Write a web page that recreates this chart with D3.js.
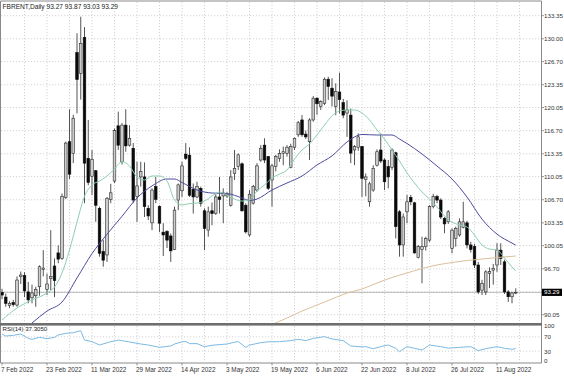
<!DOCTYPE html>
<html>
<head>
<meta charset="utf-8">
<script src="https://cdn.jsdelivr.net/npm/d3@7"></script>
<style>
  body { margin: 0; background: #fff; }
  svg { display: block; font-family: "Liberation Sans", Arial, sans-serif; }
</style>
</head>
<body>
<svg width="564" height="376"></svg>
<script>
// daily bars, index 0 = 7 Feb 2022
var open = [93.3,92.6,91.4,91.8,91.45,95.6,95.7,93.35,92.5,92.8,
  94.1,96.6,93.7,95.3,97.1,99.0,98.2,107.0,115.1,113.4,
  128.0,125.0,130.2,112.7,110.1,110.9,105.45,99.2,98.7,106.75,
  109.4,117.4,112.2,117.5,114.6,114.15,107.15,110.0,110.0,105.45,
  103.35,108.6,105.7,102.0,102.1,101.45,99.5,106.65,108.0,113.3,
  113.15,108.2,107.1,108.35,105.1,102.3,105.1,104.7,107.1,107.25,
  107.25,105.9,110.5,111.5,111.9,105.9,101.6,106.2,108.1,112.45,
  114.6,112.95,109.55,111.5,112.7,113.4,113.4,111.4,114.3,116.1,
  118.25,116.2,115.1,118.25,121.4,120.2,120.65,124.15,122.85,120.2,
  122.3,120.75,119.25,118.95,113.9,114.3,114.4,109.6,106.4,108.1,
  111.7,113.9,112.45,111.5,111.4,113.5,104.95,100.15,104.95,107.05,
  106.25,98.35,99.5,99.9,100.85,105.7,107.15,106.65,104.0,103.5,
  99.65,101.1,101.6,102.7,103.35,100.15,99.9,97.25,93.6,93.35,
  96.05,96.5,97.25,99.4,97.7,93.35,92.65,93.27];
var high = [93.8,93.1,92.0,92.2,95.6,96.3,96.2,94.8,94.4,94.1,
  97.2,99.4,96.0,102.3,98.2,100.1,107.6,115.1,119.8,119.0,
  130.8,133.2,131.7,118.25,113.9,111.0,105.7,100.9,107.1,109.0,
  117.0,119.45,117.8,119.8,117.5,114.9,112.2,112.2,112.1,105.9,
  108.35,110.0,105.9,103.3,102.3,101.8,105.7,109.05,112.2,114.9,
  114.3,109.05,109.3,108.6,105.45,105.7,106.3,107.5,110.0,108.35,
  107.8,111.0,113.9,113.4,112.1,106.2,108.1,108.85,112.0,114.6,
  115.6,113.0,111.9,113.2,114.0,114.4,114.6,114.8,115.7,118.1,
  118.95,116.7,118.5,121.7,121.55,121.1,124.4,124.5,124.3,123.55,
  125.1,121.3,121.1,119.9,114.6,116.3,114.5,110.5,109.3,111.7,
  114.0,116.3,112.7,112.45,114.15,113.65,105.2,104.7,107.4,107.4,
  106.4,100.15,101.35,101.35,105.9,107.55,107.4,106.9,104.2,105.2,
  102.55,102.8,104.0,106.4,103.65,100.6,100.3,97.7,95.1,96.5,
  96.9,97.4,100.4,100.4,98.0,93.6,93.35,93.87];
var low = [92.3,91.2,91.0,91.2,91.2,94.5,92.6,91.7,91.7,91.2,
  92.8,95.6,92.9,93.6,92.6,97.5,98.0,106.8,109.7,112.0,
  119.2,121.2,106.2,108.8,107.4,103.5,98.45,97.0,97.7,106.2,
  109.1,113.9,111.8,113.65,114.4,106.2,103.5,108.6,104.2,103.75,
  102.3,106.2,102.0,98.55,99.7,97.7,99.4,105.2,107.1,112.45,
  107.1,104.7,106.9,105.7,99.4,101.35,103.0,104.5,104.7,103.3,
  107.0,105.7,109.55,111.0,104.95,101.8,101.35,106.0,107.85,112.2,
  112.0,108.1,105.7,110.8,112.2,111.7,112.95,111.25,113.9,115.8,
  115.8,115.5,112.45,118.0,119.0,119.7,120.4,121.15,120.2,118.95,
  119.2,118.5,115.8,112.0,111.7,113.8,107.1,107.2,105.7,107.85,
  111.5,112.0,108.1,108.35,111.0,101.1,98.45,98.45,103.3,105.9,
  98.9,98.2,94.6,99.35,100.6,105.45,106.2,103.9,101.85,103.2,
  98.95,99.9,101.35,102.55,99.65,99.05,96.8,93.05,92.9,92.9,
  93.9,94.4,96.25,97.25,93.05,91.9,91.7,93.03];
var close = [92.9,91.7,91.7,91.5,95.07,95.8,93.5,92.2,93.2,93.7,
  97.0,96.8,94.5,95.6,95.0,98.1,107.2,114.9,110.4,118.5,
  124.1,129.35,112.0,109.2,112.55,105.9,98.95,97.95,106.9,107.7,
  116.7,114.6,117.5,114.5,115.6,106.65,108.7,110.8,105.7,104.35,
  108.1,106.75,103.3,101.6,100.85,99.3,105.2,108.85,111.6,112.7,
  107.35,107.1,108.6,106.2,102.55,104.95,104.7,107.1,106.75,107.7,
  107.5,110.0,111.25,113.2,105.1,102.05,107.5,108.6,111.6,114.15,
  112.45,108.35,111.6,112.95,113.4,113.65,114.3,114.4,115.6,117.85,
  116.1,115.8,118.25,121.4,120.6,120.9,124.15,123.1,121.7,122.35,
  121.2,118.95,119.7,113.45,114.4,115.8,109.8,110.0,109.0,111.25,
  113.65,112.3,109.3,110.0,113.9,102.8,100.15,104.2,106.4,106.4,
  99.0,99.9,99.9,101.1,105.7,107.15,106.65,104.2,103.2,104.95,
  102.3,102.55,103.5,103.5,100.15,99.5,97.25,93.35,94.6,96.25,
  96.3,96.75,99.4,98.2,93.35,92.65,93.2,93.29];

// moving averages (bar index, price)
var fastBars = [0,4,8,12,14,16,18,20,22,24,26,28,30,32,34,36,38,40,42,44,46,48,50,52,54,56,58,60,62,64,66,68,70,72,74,76,78,80,82,84,86,88,90,92,94,96,98,100,102,104,106,108,110,112,114,116,118,120,122,124,126,128,130,132,134,136,137];
var fastVals = [89.28,91.02,92.18,93.19,94.06,96.09,99.42,103.47,107.2,108.83,109.41,110.14,111.15,112.21,111.58,109.99,109.56,110.14,110.14,109.41,106.66,105.94,106.15,106.22,106.51,107.24,107.82,107.38,106.8,106.51,106.66,107.96,108.83,109.85,110.42,111.0,112.6,113.9,114.77,116.07,117.52,118.82,119.55,119.69,119.69,119.26,118.25,116.8,115.49,113.9,112.31,110.57,109.12,107.82,106.8,105.65,104.34,103.47,103.04,102.75,101.59,100.14,99.56,99.42,98.26,96.96,96.38];
var slowBars = [8,12,16,20,24,28,32,36,40,44,46,48,52,56,60,64,66,68,72,76,80,84,88,92,94,96,100,104,106,108,112,116,120,124,128,132,136,137];
var slowVals = [88.85,90.58,91.89,95.37,98.9,101.7,104.3,106.95,108.7,109.7,109.7,109.19,108.11,107.67,107.6,106.95,106.59,106.8,108.11,109.12,110.13,111.73,113.05,115.06,115.79,116.15,116.07,116.07,115.49,114.84,113.32,111.58,109.7,107.09,103.89,101.72,100.42,100.13];
var longBars = [72,76,80,84,88,92,96,100,104,108,112,116,120,124,128,132,137];
var longVals = [88.63,89.57,90.58,91.45,92.32,93.19,93.77,94.64,95.44,96.09,96.74,97.25,97.61,97.9,98.11,98.33,98.55];

// rsi(14)
var rsiBars = [0,1,3,5,7,8,10,12,14,15,17,19,21,22,24,26,29,31,34,37,39,42,45,46,48,49,50,52,54,56,60,62,63,65,66,69,71,74,77,79,81,83,86,88,91,93,96,97,99,101,103,105,106,108,110,112,114,117,119,122,125,127,129,132,134,136,137];
var rsiVals = [77.8,72.2,74.1,77.8,65.7,63,68.5,64.8,68.5,75,79.6,81.5,87,61,56.5,47.2,56.5,61,55.6,50,47.2,40.7,44.4,50,56,57,51,51,42.6,46.5,50,55,56.5,40.7,47,53.7,56,56.5,59.3,63,59.3,65.7,70.4,64,59.3,44.4,42,42.6,37,42.6,47.2,38,28.7,42.6,38,33.3,47.2,42.6,38.5,40.7,42.6,31.5,37,42.6,38,35.3,37.3];

var priceTicks = ["133.35","130.00","126.70","123.35","120.05","116.70","113.35","110.05","106.70","103.35","100.05","96.70","93.35","90.05"];
var rsiTicks = ["100","70","30","0"];
var dateLabels = ["7 Feb 2022","23 Feb 2022","11 Mar 2022","29 Mar 2022","14 Apr 2022","3 May 2022","19 May 2022","6 Jun 2022","22 Jun 2022","8 Jul 2022","26 Jul 2022","11 Aug 2022"];
var dateBars = [0,12,24,36,48,60,72,84,96,108,120,132];
var lastPrice = 93.29;

var svg = d3.select("svg");
var plotRight = 541.5;
var mainTop = 2, mainBottom = 323;
var rsiTop = 326, rsiBottom = 362;

var bars = d3.range(open.length).map(function (i) {
  return { i: i, o: open[i], h: high[i], l: low[i], c: close[i] };
});

var x = d3.scaleLinear().domain([0, 137]).range([2, 515.75]);
var y = d3.scaleLinear().domain([88.85, 135.33]).range([mainBottom, mainTop]);
var yr = d3.scaleLinear().domain([0, 100]).range([rsiBottom, rsiTop]);

svg.append("clipPath").attr("id", "mainclip")
  .append("rect").attr("x", 1).attr("y", mainTop).attr("width", plotRight - 1).attr("height", mainBottom - mainTop);
svg.append("clipPath").attr("id", "rsiclip")
  .append("rect").attr("x", 1).attr("y", rsiTop).attr("width", plotRight - 1).attr("height", rsiBottom - rsiTop);

var grid = svg.append("g")
  .attr("stroke", "#c9c9c9")
  .attr("stroke-width", 0.8)
  .attr("stroke-dasharray", "1.2,1.8");

// vertical grid every 6 bars, both panels
var vgrid = d3.range(6, 144, 6).filter(function (b) { return x(b) < plotRight; });
vgrid.forEach(function (b) {
  grid.append("line").attr("x1", x(b)).attr("x2", x(b)).attr("y1", mainTop).attr("y2", mainBottom);
  grid.append("line").attr("x1", x(b)).attr("x2", x(b)).attr("y1", rsiTop).attr("y2", rsiBottom);
});
priceTicks.forEach(function (t) {
  grid.append("line").attr("x1", 1).attr("x2", plotRight).attr("y1", y(+t)).attr("y2", y(+t));
});
[70, 30].forEach(function (v) {
  grid.append("line").attr("x1", 1).attr("x2", plotRight).attr("y1", yr(v)).attr("y2", yr(v));
});

// bid line
svg.append("line")
  .attr("x1", 1).attr("x2", plotRight)
  .attr("y1", y(lastPrice)).attr("y2", y(lastPrice))
  .attr("stroke", "#a8a8a8").attr("stroke-width", 0.8);

// candles
var candles = svg.append("g").attr("clip-path", "url(#mainclip)");
candles.selectAll("line.wick")
  .data(bars).enter().append("line")
  .attr("class", "wick")
  .attr("x1", (d) => x(d.i)).attr("x2", (d) => x(d.i))
  .attr("y1", (d) => y(d.h)).attr("y2", (d) => y(d.l))
  .attr("stroke", "#2a2a2a").attr("stroke-width", 0.8);
candles.selectAll("rect.body")
  .data(bars).enter().append("rect")
  .attr("class", "body")
  .attr("x", (d) => x(d.i) - 1.3)
  .attr("width", 2.6)
  .attr("y", (d) => y(Math.max(d.o, d.c)))
  .attr("height", (d) => Math.max(0.8, Math.abs(y(d.o) - y(d.c))))
  .attr("fill", (d) => d.c >= d.o ? "#cdcdcd" : "#0a0a0a")
  .attr("stroke", (d) => d.c >= d.o ? "#2a2a2a" : "#0a0a0a")
  .attr("stroke-width", 0.6);

// moving averages
var maLine = d3.line().x((d) => x(d[0])).y((d) => y(d[1])).curve(d3.curveMonotoneX);
var mas = [
  { bars: longBars, vals: longVals, color: "#dcc09a" },
  { bars: slowBars, vals: slowVals, color: "#4c4c9c" },
  { bars: fastBars, vals: fastVals, color: "#8ccfae" }
];
mas.forEach(function (m) {
  svg.append("path")
    .attr("clip-path", "url(#mainclip)")
    .attr("d", maLine(m.bars.map((b, k) => [b, m.vals[k]])))
    .attr("fill", "none")
    .attr("stroke", m.color)
    .attr("stroke-width", 1);
});

// rsi line
svg.append("path")
  .attr("clip-path", "url(#rsiclip)")
  .attr("d", d3.line().x((d) => x(d[0])).y((d) => yr(d[1]))(rsiBars.map((b, k) => [b, rsiVals[k]])))
  .attr("fill", "none")
  .attr("stroke", "#7db9e3")
  .attr("stroke-width", 1);

// frames
var frame = svg.append("g").attr("stroke", "#8a8a8a").attr("fill", "none");
frame.append("line").attr("x1", 0.5).attr("x2", 0.5).attr("y1", 1).attr("y2", rsiBottom + 1);
frame.append("line").attr("x1", plotRight).attr("x2", plotRight).attr("y1", 1).attr("y2", rsiBottom + 1);
frame.append("line").attr("x1", 0.5).attr("x2", plotRight).attr("y1", 1).attr("y2", 1);
frame.append("line").attr("x1", 0.5).attr("x2", plotRight).attr("y1", rsiBottom + 1).attr("y2", rsiBottom + 1);
svg.append("rect").attr("x", 0).attr("y", mainBottom).attr("width", plotRight + 0.5).attr("height", 2.6).attr("fill", "#6e6e6e");

// price axis
var axisTxt = svg.append("g").attr("font-size", 6.2).attr("fill", "#333");
priceTicks.forEach(function (t) {
  svg.append("line").attr("x1", plotRight).attr("x2", plotRight + 2.5)
    .attr("y1", y(+t)).attr("y2", y(+t)).attr("stroke", "#555").attr("stroke-width", 0.6);
  axisTxt.append("text").attr("x", 544).attr("y", y(+t) + 2.1).text(t);
});
rsiTicks.forEach(function (t) {
  axisTxt.append("text").attr("x", 544).attr("y", Math.min(yr(+t) + 2.3, rsiBottom + 1)).text(t);
});

// last price tag
svg.append("rect").attr("x", 542).attr("y", y(lastPrice) - 3.6).attr("width", 20).attr("height", 7.2).attr("fill", "#000");
svg.append("text").attr("x", 544).attr("y", y(lastPrice) + 2.1)
  .attr("font-size", 6.2).attr("fill", "#fff").text(lastPrice.toFixed(2));

// time axis
dateBars.forEach(function (b, k) {
  svg.append("line").attr("x1", x(b)).attr("x2", x(b)).attr("y1", rsiBottom + 1).attr("y2", rsiBottom + 3.5)
    .attr("stroke", "#555").attr("stroke-width", 0.6);
  svg.append("text").attr("x", x(b) - 1).attr("y", 371.5)
    .attr("font-size", 6.4).attr("fill", "#333").text(dateLabels[k]);
});

// titles
svg.append("text").attr("x", 2.5).attr("y", 8.8).attr("font-size", 6.6).attr("fill", "#222")
  .text("FBRENT,Daily  93.27 93.87 93.03 93.29");
svg.append("text").attr("x", 2.5).attr("y", 331.2).attr("font-size", 6.1).attr("fill", "#222")
  .text("RSI(14) 37.3050");
</script>
</body>
</html>
